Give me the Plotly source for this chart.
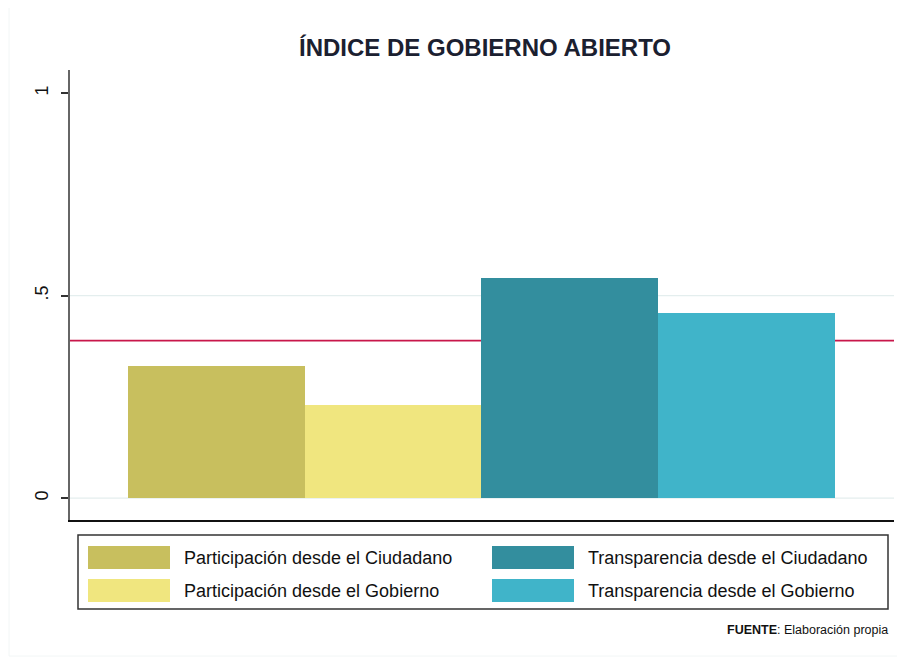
import plotly.graph_objects as go

# ---- data ----
series_names = [
    "Participación desde el Ciudadano",
    "Participación desde el Gobierno",
    "Transparencia desde el Ciudadano",
    "Transparencia desde el Gobierno",
]
series_values = [0.326, 0.229, 0.543, 0.457]
series_colors = ["#c8bf5e", "#f0e67f", "#338e9e", "#40b4c9"]
ytick_vals = [0, 0.5, 1]
ytick_text = ["0", ".5", "1"]
grid_vals = [0, 0.5]
title_text = "ÍNDICE DE GOBIERNO ABIERTO"
source_text = "<b>FUENTE</b>: Elaboración propia"

OFF = 8  # page body margin
W, H = 905 - OFF, 660 - OFF
L, R, T, B = 70 - OFF, 11, 70 - OFF, 140
PW, PH = W - L - R, H - T - B


def px(x):
    return (x - OFF - L) / PW


def py(y):
    return (T + PH - (y - OFF)) / PH


mean_val = sum(series_values) / len(series_values)

fig = go.Figure()
fig.add_trace(go.Bar(
    x=list(range(len(series_values))),
    y=series_values,
    width=1,
    marker=dict(color=series_colors, line=dict(width=0)),
    showlegend=False,
    hoverinfo="y",
))

shapes = []
for g in grid_vals:
    shapes.append(dict(type="line", xref="paper", yref="y", x0=0, x1=1, y0=g, y1=g,
                       line=dict(color="#e4eeee", width=1.2), layer="below"))
shapes.append(dict(type="line", xref="paper", yref="y", x0=0, x1=1, y0=mean_val, y1=mean_val,
                   line=dict(color="#c8174a", width=1.6), layer="below"))
shapes.append(dict(type="rect", xref="paper", yref="paper",
                   x0=px(9), x1=px(899), y0=py(5), y1=py(656),
                   line=dict(color="#f2f6f6", width=1), fillcolor="rgba(0,0,0,0)"))
shapes.append(dict(type="rect", xref="paper", yref="paper",
                   x0=px(78), x1=px(888), y0=py(535), y1=py(609),
                   line=dict(color="#333333", width=1.5), fillcolor="white"))

annotations = []
col_x = [88, 492]
row_y = [546, 579]
sw_w, sw_h = 82, 23
for i, (name, col) in enumerate(zip(series_names, series_colors)):
    c = i // 2
    r = i % 2
    x0 = col_x[c]
    y0 = row_y[r]
    shapes.append(dict(type="rect", xref="paper", yref="paper",
                       x0=px(x0), x1=px(x0 + sw_w), y0=py(y0), y1=py(y0 + sw_h),
                       line=dict(width=0), fillcolor=col))
    annotations.append(dict(xref="paper", yref="paper", x=px(x0 + sw_w + 12), y=py(y0 + sw_h / 2),
                            text=name, showarrow=False, xanchor="left", yanchor="middle",
                            font=dict(size=18, color="#111111")))

annotations.append(dict(xref="paper", yref="paper", x=px(890), y=py(630), text=source_text,
                        showarrow=False, xanchor="right", yanchor="middle",
                        font=dict(size=12.5, color="#111111")))
annotations.append(dict(xref="paper", yref="paper", x=px(485), y=py(47), text="<b>" + title_text + "</b>",
                        showarrow=False, xanchor="center", yanchor="middle",
                        font=dict(size=24, color="#1b2030")))

fig.update_layout(
    width=W, height=H,
    margin=dict(l=L, r=R, t=T, b=B, pad=0),
    paper_bgcolor="white", plot_bgcolor="white",
    font=dict(family="Liberation Sans, Arial, sans-serif", color="#111111"),
    shapes=shapes,
    annotations=annotations,
    bargap=0,
    xaxis=dict(range=[-0.828, 3.834], showticklabels=False, ticks="", showgrid=False,
               zeroline=False, showline=True, linecolor="#111111", linewidth=1.5, fixedrange=True),
    yaxis=dict(range=[-0.054, 1.057], tickvals=ytick_vals, ticktext=ytick_text,
               tickangle=-90, ticks="outside", ticklen=7, tickwidth=1.5, tickcolor="#333333",
               tickfont=dict(size=18, color="#111111"), ticklabelstandoff=6,
               showgrid=False, zeroline=False, showline=True, linecolor="#666666", linewidth=2,
               fixedrange=True),
)

fig.write_html("out.html")
